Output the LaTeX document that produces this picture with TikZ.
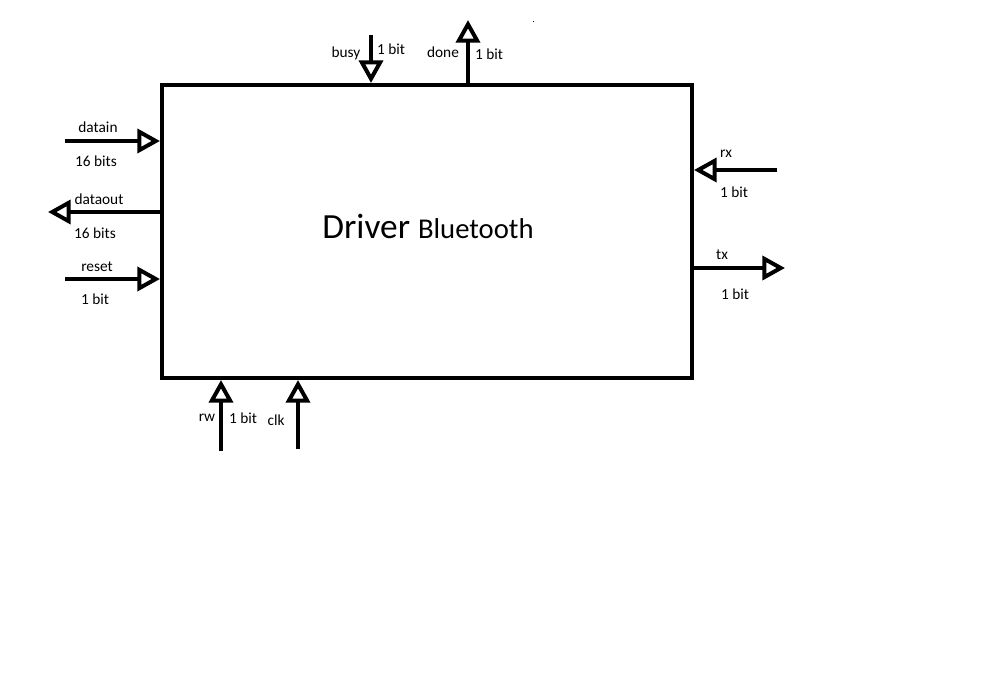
\documentclass[tikz,border=0pt]{standalone}
\usepackage{fontspec}
\setmainfont{Carlito}
\usetikzlibrary{arrows.meta}
\begin{document}
\begin{tikzpicture}[x=0.75pt,y=-0.75pt,
  wire/.style={line width=3pt,-{Triangle[open,length=17pt,width=18pt,line width=3pt]}},
  lbl/.style={font=\fontsize{11.5}{13}\selectfont,inner sep=0pt,anchor=center},
  box/.style={draw,line width=3pt,inner sep=0pt}]
\useasboundingbox (0,0) rectangle (1002,678);
\node[box,minimum width=530*0.75pt,minimum height=293*0.75pt] (drv) at (427,231.5) {};
\node[inner sep=0pt] (title) at (428,226) {\fontsize{26.5}{28}\selectfont Driver \fontsize{21.5}{22}\selectfont Bluetooth};
% left side
\coordinate (dinS) at (65,141);
\coordinate (dinE) at (drv.west |- dinS);
\draw[wire] (dinS) -- (dinE);
\node[lbl] (dinL) at (98,127) {datain};
\node[lbl] (dinB) at (96,161) {16 bits};
\coordinate (doutS) at (drv.west |- 0,212);
\coordinate (doutE) at (48,212);
\draw[wire] (doutS) -- (doutE);
\node[lbl] (doutL) at (99,199) {dataout};
\node[lbl] (doutB) at (95,233) {16 bits};
\coordinate (rstS) at (65,279);
\coordinate (rstE) at (drv.west |- rstS);
\draw[wire] (rstS) -- (rstE);
\node[lbl] (rstL) at (97,267) {reset};
\node[lbl] (rstB) at (95,299) {1 bit};
% top
\coordinate (busyS) at (371,35);
\coordinate (busyE) at (busyS |- drv.north);
\draw[wire] (busyS) -- (busyE);
\node[lbl] (busyL) at (346,53) {busy};
\node[lbl] (busyB) at (391,49) {1 bit};
\coordinate (doneS) at (468,0 |- drv.north);
\coordinate (doneE) at (468,20);
\draw[wire] (doneS) -- (doneE);
\node[lbl] (doneL) at (443,52) {done};
\node[lbl] (doneB) at (489,54) {1 bit};
\fill (532.5,20.5) rectangle (533.5,21.5);
% right
\coordinate (rxS) at (777,170);
\coordinate (rxE) at (drv.east |- rxS);
\draw[wire] (rxS) -- (rxE);
\node[lbl] (rxL) at (726,154) {rx};
\node[lbl] (rxB) at (734,192) {1 bit};
\coordinate (txS) at (drv.east |- 0,268);
\coordinate (txE) at (785,268);
\draw[wire] (txS) -- (txE);
\node[lbl] (txL) at (722,255) {tx};
\node[lbl] (txB) at (735,294) {1 bit};
% bottom
\coordinate (rwS) at (221,451);
\coordinate (rwE) at (rwS |- drv.south);
\draw[wire] (rwS) -- (rwE);
\node[lbl] (rwL) at (207,418) {rw};
\node[lbl] (rwB) at (243,418) {1 bit};
\coordinate (clkS) at (298,449);
\coordinate (clkE) at (clkS |- drv.south);
\draw[wire] (clkS) -- (clkE);
\node[lbl] (clkL) at (276,420) {clk};
\end{tikzpicture}
\end{document}
